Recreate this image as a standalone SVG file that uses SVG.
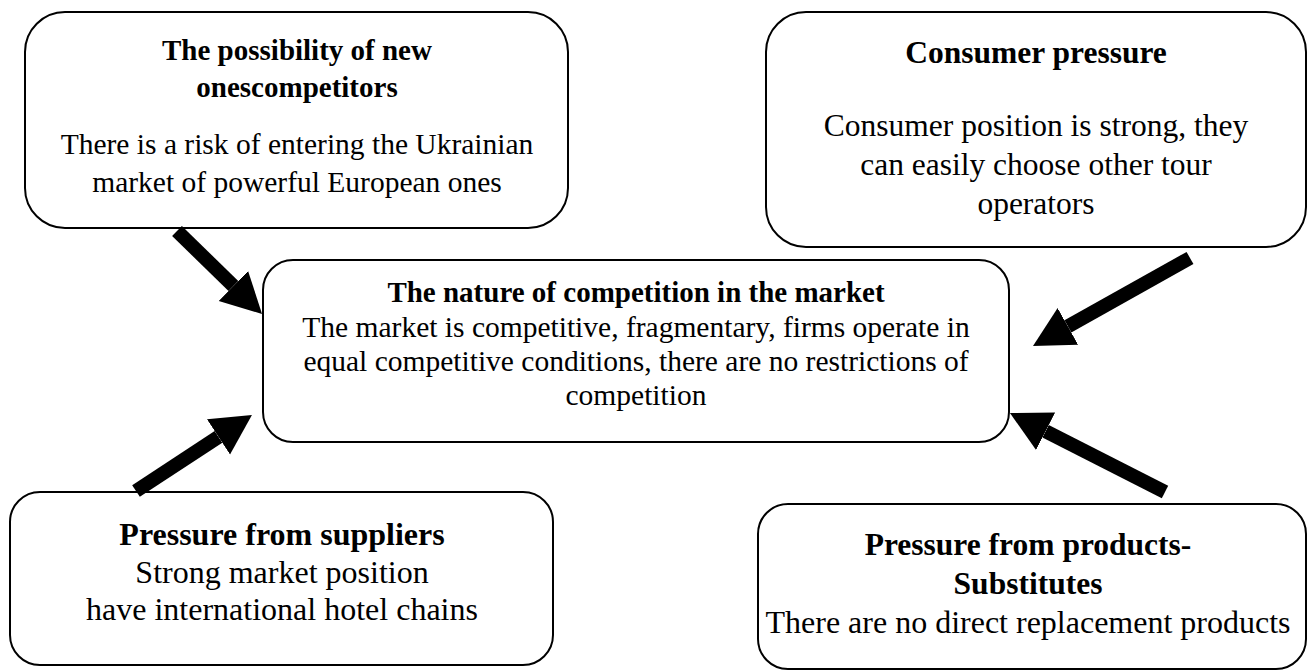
<svg xmlns="http://www.w3.org/2000/svg" width="1308" height="671" viewBox="0 0 1308 671">
<style>
.box{fill:#fff;stroke:#000;stroke-width:2}
text{font-family:"Liberation Serif","Times New Roman",serif;fill:#000;text-anchor:middle}
.b{font-weight:bold}
.arr{stroke:#000;stroke-width:14;fill:none;marker-end:url(#ah)}
</style>
<defs>
<marker id="ah" markerUnits="userSpaceOnUse" markerWidth="42" markerHeight="44" refX="0" refY="21" orient="auto">
<path d="M0,0 L40,21 L0,42 Z" fill="#000"/>
</marker>
</defs>
<g id="new-competitors">
<rect class="box" x="25" y="12" width="543" height="216" rx="40"/>
<text class="b" x="297" y="60" font-size="29">The possibility of new</text>
<text class="b" x="297" y="97" font-size="29">onescompetitors</text>
<text x="297" y="154" font-size="29.5">There is a risk of entering the Ukrainian</text>
<text x="297" y="192" font-size="29.5">market of powerful European ones</text>
</g>
<g id="consumer-pressure">
<rect class="box" x="766" y="12" width="540" height="235" rx="40"/>
<text class="b" x="1036" y="63" font-size="31.5">Consumer pressure</text>
<text x="1036" y="136" font-size="31.5">Consumer position is strong, they</text>
<text x="1036" y="175" font-size="31.5">can easily choose other tour</text>
<text x="1036" y="214" font-size="31.5">operators</text>
</g>
<g id="competition">
<rect class="box" x="263" y="260" width="746" height="182" rx="30"/>
<text class="b" x="636" y="302" font-size="29">The nature of competition in the market</text>
<text x="636" y="337" font-size="29.5">The market is competitive, fragmentary, firms operate in</text>
<text x="636" y="371" font-size="29.5">equal competitive conditions, there are no restrictions of</text>
<text x="636" y="405" font-size="29.5">competition</text>
</g>
<g id="suppliers">
<rect class="box" x="10" y="492" width="543" height="173" rx="30"/>
<text class="b" x="282" y="545" font-size="32">Pressure from suppliers</text>
<text x="282" y="583" font-size="32">Strong market position</text>
<text x="282" y="620" font-size="32">have international hotel chains</text>
</g>
<g id="substitutes">
<rect class="box" x="758" y="504" width="548" height="165" rx="30"/>
<text class="b" x="1028" y="555" font-size="31.5">Pressure from products-</text>
<text class="b" x="1028" y="594" font-size="31.5">Substitutes</text>
<text x="1028" y="633" font-size="32">There are no direct replacement products</text>
</g>
<g id="connectors">
<line class="arr" x1="177" y1="231" x2="233.4" y2="286"/>
<line class="arr" x1="1190" y1="258" x2="1067.9" y2="326.4"/>
<line class="arr" x1="136" y1="491" x2="218.5" y2="436.9"/>
<line class="arr" x1="1165" y1="492" x2="1045.6" y2="431.2"/>
</g>
</svg>
